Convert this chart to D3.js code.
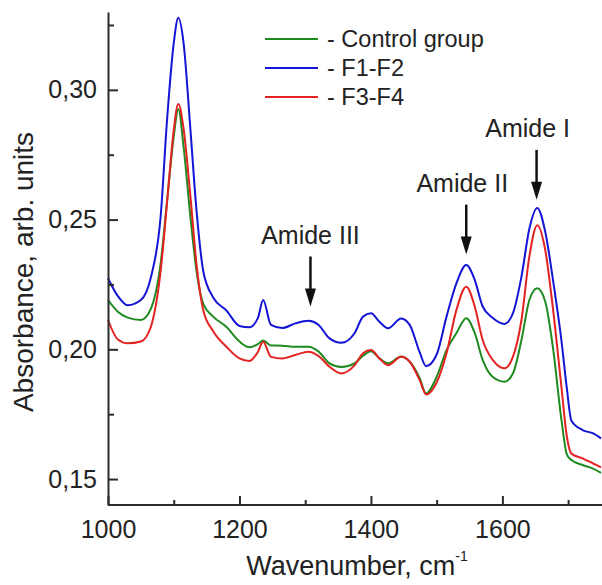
<!DOCTYPE html>
<html lang="en">
  <head>
    <meta charset="utf-8"/>
    <script src="https://cdn.jsdelivr.net/npm/d3@7"></script>
    <style>
      body { margin: 0; background: #fff; }
      svg { display: block; font-family: "Liberation Sans", Arial, sans-serif; }
    </style>
  </head>
  <body>
    <script>
     // data -------------------------------------------------------------------------
     const wavenumber = [1000, 1015, 1030, 1050, 1065, 1080, 1090, 1100, 1107, 1115,
                         1125, 1135, 1145, 1160, 1180, 1200, 1215, 1228, 1236, 1248,
                         1265, 1285, 1305, 1320, 1337, 1355, 1375, 1388, 1400, 1413,
                         1426, 1446, 1459, 1474, 1484, 1500, 1515, 1530, 1545, 1558,
                         1570, 1585, 1603, 1616, 1629, 1641, 1653, 1665, 1677, 1690,
                         1698, 1705, 1722, 1738, 1750];

     const control = [0.2190, 0.2145, 0.2122, 0.2113, 0.2155, 0.2330, 0.2575, 0.2820, 0.2925, 0.2780,
                      0.2520, 0.2295, 0.2175, 0.2126, 0.2087, 0.2030, 0.2008, 0.2020, 0.2034, 0.2015,
                      0.2014, 0.2010, 0.2010, 0.1992, 0.1946, 0.1932, 0.1946, 0.1975, 0.1993, 0.1965,
                      0.1946, 0.1972, 0.1952, 0.1890, 0.1830, 0.1894, 0.1997, 0.2062, 0.2120, 0.2062,
                      0.1959, 0.1894, 0.1875, 0.1907, 0.2036, 0.2190, 0.2235, 0.2185, 0.2005, 0.1725,
                      0.1595, 0.1573, 0.1554, 0.1540, 0.1524];

     const f1f2 = [0.2274, 0.2205, 0.2170, 0.2190, 0.2275, 0.2510, 0.2890, 0.3180, 0.3278, 0.3180,
                   0.2860, 0.2525, 0.2300, 0.2200, 0.2150, 0.2090, 0.2085, 0.2120, 0.2190, 0.2094,
                   0.2082, 0.2100, 0.2110, 0.2095, 0.2042, 0.2025, 0.2062, 0.2126, 0.2139, 0.2106,
                   0.2081, 0.2119, 0.2094, 0.1990, 0.1935, 0.1980, 0.2126, 0.2254, 0.2325, 0.2267,
                   0.2165, 0.2122, 0.2098, 0.2139, 0.2280, 0.2465, 0.2545, 0.2455, 0.2267, 0.2030,
                   0.1850, 0.1725, 0.1689, 0.1676, 0.1657];

     const f3f4 = [0.2113, 0.2038, 0.2023, 0.2030, 0.2085, 0.2300, 0.2570, 0.2845, 0.2945, 0.2850,
                   0.2600, 0.2320, 0.2150, 0.2070, 0.2010, 0.1965, 0.1955, 0.1990, 0.2029, 0.1971,
                   0.1965, 0.1978, 0.1991, 0.1975, 0.1933, 0.1907, 0.1938, 0.1985, 0.1997, 0.1965,
                   0.1939, 0.1971, 0.1952, 0.1882, 0.1826, 0.1872, 0.1985, 0.2151, 0.2241, 0.2164,
                   0.2036, 0.1960, 0.1927, 0.1971, 0.2113, 0.2357, 0.2478, 0.2385, 0.2155, 0.1850,
                   0.1665, 0.1598, 0.1580, 0.1560, 0.1545];

     const seriesNames = ["- Control group", "- F1-F2", "- F3-F4"];
     const seriesColors = ["#1f8a1f", "#1414d6", "#e42222"];

     const xTicks = [1000, 1200, 1400, 1600];
     const xMinor = [1100, 1300, 1500, 1700];
     const yTicks = [0.15, 0.20, 0.25, 0.30];
     const yMinor = [0.175, 0.225, 0.275, 0.325];

     // annotation labels, their wavenumber and where the arrow tip sits
     const peakLabels = ["Amide III", "Amide II", "Amide I"];
     const peakPos = [1308, 1545, 1652];
     const peakTip = [0.2165, 0.2365, 0.2576];

     // set up the svg -------------------------------------------------------------
     const W = 602, H = 585;
     const svg = d3.select("body").append("svg")
                   .attr("width", W)
                   .attr("height", H);

     const x = d3.scaleLinear().domain([1000, 1750]).range([108, 601]);
     const y = d3.scaleLinear().domain([0.14, 0.33]).range([505, 12]);

     const comma = d => d3.format(".2f")(d).replace(".", ",");

     // spectra
     const allSeries = [control, f1f2, f3f4];
     const line = d3.line()
                    .x((d, i) => x(wavenumber[i]))
                    .y(d => y(d))
                    .curve(d3.curveMonotoneX);

     svg.selectAll("path.spec")
        .data(allSeries)
        .enter()
        .append("path")
        .attr("class", "spec")
        .attr("d", d => line(d))
        .attr("fill", "none")
        .attr("stroke", (d, i) => seriesColors[i])
        .attr("stroke-width", 2);

     // axes -----------------------------------------------------------------------
     const axisColor = "#2b2b2b";

     svg.append("g")
        .attr("transform", "translate(" + x(1000) + ",0)")
        .call(d3.axisLeft(y).tickValues(yTicks).tickFormat(comma)
                .tickSizeInner(-10).tickSizeOuter(0).tickPadding(11));
     svg.append("g")
        .attr("transform", "translate(" + x(1000) + ",0)")
        .call(d3.axisLeft(y).tickValues(yMinor).tickFormat("")
                .tickSizeInner(-6).tickSizeOuter(0))
        .select(".domain").remove();

     const gx = svg.append("g")
                   .attr("transform", "translate(0," + y(0.14) + ")")
                   .call(d3.axisBottom(x).tickValues(xTicks).tickFormat(d3.format("d"))
                           .tickSizeInner(-9).tickSizeOuter(0).tickPadding(15));
     svg.append("g")
        .attr("transform", "translate(0," + y(0.14) + ")")
        .call(d3.axisBottom(x).tickValues(xMinor).tickFormat("")
                .tickSizeInner(-5).tickSizeOuter(0))
        .select(".domain").remove();

     svg.selectAll(".domain, .tick line")
        .attr("stroke", axisColor)
        .attr("stroke-width", 2);
     // let the x axis run to the edge of the picture
     gx.select(".domain").attr("d", "M" + x(1000) + ",0H" + W);

     svg.selectAll(".tick text")
        .attr("font-family", "'Liberation Sans', Arial, sans-serif")
        .attr("font-size", 25)
        .attr("fill", "#222");

     // axis titles
     svg.append("text")
        .attr("transform", "translate(33,272) rotate(-90)")
        .attr("text-anchor", "middle")
        .attr("font-size", 28)
        .attr("fill", "#222")
        .text("Absorbance, arb. units");

     const xt = svg.append("text")
                   .attr("x", 357)
                   .attr("y", 575)
                   .attr("text-anchor", "middle")
                   .attr("font-size", 27)
                   .attr("fill", "#222");
     xt.append("tspan").text("Wavenumber, cm");
     xt.append("tspan").attr("font-size", 14).attr("dy", -14).text("-1");

     // legend ---------------------------------------------------------------------
     const legend = svg.selectAll("g.leg")
                       .data(seriesNames)
                       .enter()
                       .append("g")
                       .attr("class", "leg")
                       .attr("transform", (d, i) => "translate(265," + (39 + i * 29) + ")");
     legend.append("line")
           .attr("x1", 0).attr("x2", 53)
           .attr("stroke", (d, i) => seriesColors[i])
           .attr("stroke-width", 2);
     legend.append("text")
           .attr("x", 62)
           .attr("y", 8)
           .attr("font-size", 23.5)
           .attr("fill", "#222")
           .text(d => d);

     // peak arrows ----------------------------------------------------------------
     const arrowLen = 50;
     const ann = svg.selectAll("g.ann")
                    .data(peakLabels)
                    .enter()
                    .append("g")
                    .attr("class", "ann")
                    .attr("transform", (d, i) => "translate(" + x(peakPos[i]) + "," + y(peakTip[i]) + ")");
     ann.append("line")
        .attr("y1", -arrowLen).attr("y2", -14)
        .attr("stroke", "#111")
        .attr("stroke-width", 2.5);
     ann.append("path")
        .attr("d", "M0,0L-5.5,-18L5.5,-18Z")
        .attr("fill", "#111");
     ann.append("text")
        .attr("x", (d, i) => i === 2 ? -9 : (i === 1 ? -4 : 0))
        .attr("y", -arrowLen - 13)
        .attr("text-anchor", "middle")
        .attr("font-size", 25)
        .attr("fill", "#222")
        .text(d => d);
    </script>
  </body>
</html>
